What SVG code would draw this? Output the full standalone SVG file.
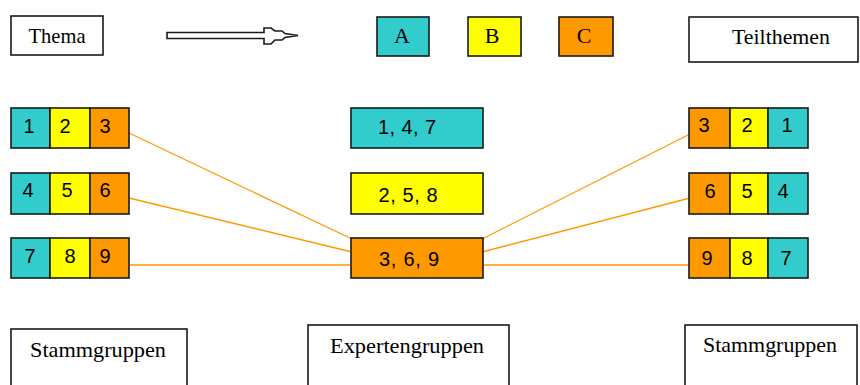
<svg xmlns="http://www.w3.org/2000/svg" width="860" height="385" viewBox="0 0 860 385">
<style>
.box{stroke:#1a1a1a;stroke-width:1.6}
.w{fill:#fff}
.a{fill:#33CCCC}
.b{fill:#FFFF00}
.c{fill:#FF9900}
.lbl{font-family:"Liberation Serif","DejaVu Serif",serif;font-size:22px;fill:#000;text-anchor:middle}
.num{font-family:"Liberation Sans",Arial,sans-serif;font-size:20px;fill:#000;text-anchor:middle}
.con{stroke:#FF9900;stroke-width:1.3;fill:none}
</style>
<rect width="860" height="385" fill="#fff"/>
<g id="thema"><rect class="box w" x="11" y="16" width="92" height="39"/><text class="lbl" x="57" y="43" textLength="57" lengthAdjust="spacingAndGlyphs">Thema</text></g>
<g id="arrow"><path d="M167,32.5 L264,32.5 L264,28 L271,28 L275,31 L282,31 L285,33.5 L298,35.5 L285,37.5 L282,40 L275,40 L271,44 L264,44 L264,38.5 L167,38.5 Z" fill="#fff" stroke="#1a1a1a" stroke-width="1.6"/></g>
<g id="legendA"><rect class="box a" x="377" y="17" width="52" height="39"/><text class="lbl" x="402" y="43">A</text></g>
<g id="legendB"><rect class="box b" x="468" y="17" width="53" height="39"/><text class="lbl" x="492" y="43">B</text></g>
<g id="legendC"><rect class="box c" x="559" y="17" width="54" height="39"/><text class="lbl" x="584" y="43">C</text></g>
<g id="teilthemen"><rect class="box w" x="689" y="17" width="169" height="45"/><text class="lbl" x="781" y="44" textLength="98" lengthAdjust="spacingAndGlyphs">Teilthemen</text></g>

<g id="connectors">
<line class="con" x1="129" y1="133" x2="352" y2="239"/>
<line class="con" x1="129" y1="198" x2="352" y2="252"/>
<line class="con" x1="129" y1="265" x2="352" y2="265"/>
<line class="con" x1="482" y1="239" x2="690" y2="134"/>
<line class="con" x1="482" y1="252" x2="690" y2="198"/>
<line class="con" x1="482" y1="265" x2="690" y2="265"/>
</g>

<g id="left1"><rect class="box a" x="11" y="108" width="39" height="40"/><rect class="box b" x="50" y="108" width="40" height="40"/><rect class="box c" x="90" y="108" width="39" height="40"/>
<text class="num" x="29" y="133">1</text><text class="num" x="65" y="133">2</text><text class="num" x="105" y="133">3</text></g>
<g id="left2"><rect class="box a" x="11" y="173" width="39" height="41"/><rect class="box b" x="50" y="173" width="40" height="41"/><rect class="box c" x="90" y="173" width="39" height="41"/>
<text class="num" x="28" y="197">4</text><text class="num" x="67" y="197">5</text><text class="num" x="105" y="197">6</text></g>
<g id="left3"><rect class="box a" x="11" y="238" width="39" height="40"/><rect class="box b" x="50" y="238" width="40" height="40"/><rect class="box c" x="90" y="238" width="39" height="40"/>
<text class="num" x="30" y="263">7</text><text class="num" x="70" y="263">8</text><text class="num" x="105" y="263">9</text></g>

<g id="expertA"><rect class="box a" x="351" y="108" width="132" height="40"/><text class="num" x="407" y="134" textLength="58" lengthAdjust="spacing">1, 4, 7</text></g>
<g id="expertB"><rect class="box b" x="351" y="173" width="132" height="41"/><text class="num" x="408" y="202" textLength="59" lengthAdjust="spacing">2, 5, 8</text></g>
<g id="expertC"><rect class="box c" x="351" y="238" width="132" height="40"/><text class="num" x="409" y="266" textLength="60" lengthAdjust="spacing">3, 6, 9</text></g>

<g id="right1"><rect class="box c" x="689" y="108" width="41" height="40"/><rect class="box b" x="730" y="108" width="38" height="40"/><rect class="box a" x="768" y="108" width="40" height="40"/>
<text class="num" x="704" y="132">3</text><text class="num" x="747" y="132">2</text><text class="num" x="787" y="132">1</text></g>
<g id="right2"><rect class="box c" x="689" y="173" width="41" height="41"/><rect class="box b" x="730" y="173" width="38" height="41"/><rect class="box a" x="768" y="173" width="40" height="41"/>
<text class="num" x="710" y="198">6</text><text class="num" x="747" y="198">5</text><text class="num" x="783" y="198">4</text></g>
<g id="right3"><rect class="box c" x="689" y="238" width="41" height="40"/><rect class="box b" x="730" y="238" width="38" height="40"/><rect class="box a" x="768" y="238" width="40" height="40"/>
<text class="num" x="707" y="265">9</text><text class="num" x="747" y="265">8</text><text class="num" x="786" y="265">7</text></g>

<g id="stamm-left"><rect class="box w" x="11" y="329" width="176" height="60"/><text class="lbl" x="98" y="357" textLength="136" lengthAdjust="spacingAndGlyphs">Stammgruppen</text></g>
<g id="experten"><rect class="box w" x="308" y="325" width="201" height="64"/><text class="lbl" x="407" y="353" textLength="154" lengthAdjust="spacingAndGlyphs">Expertengruppen</text></g>
<g id="stamm-right"><rect class="box w" x="685" y="325" width="172" height="64"/><text class="lbl" x="770" y="352" textLength="134" lengthAdjust="spacingAndGlyphs">Stammgruppen</text></g>
</svg>
